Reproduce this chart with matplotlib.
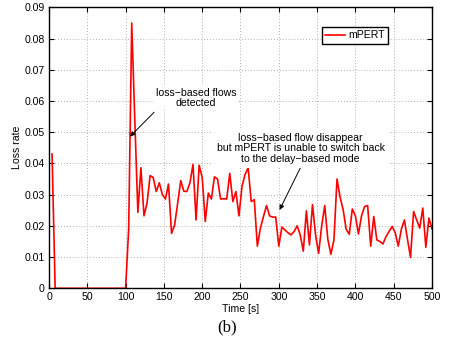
import numpy as np
from matplotlib import pyplot as plt

plt.rcParams['font.family'] = ['Liberation Sans', 'DejaVu Sans']

# sample times [s], one sample every 4 s
time_s = np.arange(4, 501, 4)

loss_rate = [
    0.043,
    0.0, 0.0, 0.0, 0.0, 0.0, 0.0, 0.0, 0.0, 0.0, 0.0, 0.0, 0.0,
    0.0, 0.0, 0.0, 0.0, 0.0, 0.0, 0.0, 0.0, 0.0, 0.0, 0.0, 0.0,
    0.019, 0.085, 0.054, 0.0243, 0.0386, 0.0232, 0.0273, 0.0361, 0.0355, 0.031,
    0.0338, 0.030, 0.0286, 0.0334, 0.0176, 0.0203, 0.0273, 0.0345, 0.0311, 0.031,
    0.0338, 0.0397, 0.0219, 0.0394, 0.0355, 0.0214, 0.0305, 0.0286, 0.0357, 0.035,
    0.0286, 0.0287, 0.0286, 0.0368, 0.0278, 0.031, 0.0232, 0.0327, 0.0365, 0.0386,
    0.0278, 0.0284, 0.0135, 0.0193, 0.023, 0.0265, 0.0232, 0.0228, 0.0228, 0.0135,
    0.0196, 0.0187, 0.0178, 0.0171, 0.0182, 0.020, 0.0171, 0.0119, 0.0248, 0.0139,
    0.0268, 0.0171, 0.0112, 0.020, 0.0265, 0.0157, 0.0109, 0.0155, 0.035, 0.0292,
    0.0252, 0.0189, 0.0173, 0.0254, 0.0232, 0.0174, 0.0232, 0.0262, 0.0265, 0.0135,
    0.023, 0.0155, 0.015, 0.0142, 0.0166, 0.0182, 0.0198, 0.0178, 0.0135, 0.0189,
    0.0219, 0.0157, 0.0099, 0.0246, 0.0219, 0.0193, 0.0257, 0.0131, 0.0225, 0.019,
]

x_ticks = [0, 50, 100, 150, 200, 250, 300, 350, 400, 450, 500]
y_ticks = [0, 0.01, 0.02, 0.03, 0.04, 0.05, 0.06, 0.07, 0.08, 0.09]
y_tick_labels = ['0', '0.01', '0.02', '0.03', '0.04', '0.05', '0.06', '0.07', '0.08', '0.09']

fig = plt.figure(figsize=(4.53, 3.41), dpi=100)
ax = fig.add_axes([0.1082, 0.1545, 0.8454, 0.8241])

ax.plot(time_s, loss_rate, color='red', linewidth=1.2, label='mPERT')

ax.set_xlim(0, 500)
ax.set_ylim(0, 0.09)
ax.set_xticks(x_ticks)
ax.set_yticks(y_ticks)
ax.set_yticklabels(y_tick_labels)
ax.tick_params(direction='in', length=3.5, width=0.8, labelsize=7.6,
               top=True, right=True, pad=3)
ax.grid(True, linestyle=(0, (1, 2.5)), color='#999999', linewidth=0.6)
for s in ax.spines.values():
    s.set_linewidth(1.0)

ax.set_xlabel('Time [s]', fontsize=7.6, labelpad=1)
ax.set_ylabel('Loss rate', fontsize=7.6, labelpad=2)

leg = ax.legend(loc='upper right', bbox_to_anchor=(0.886, 0.931), borderaxespad=0,
                fontsize=7.6, fancybox=False, framealpha=1, edgecolor='black',
                handlelength=1.9, handletextpad=0.25, borderpad=0.35)
leg.get_frame().set_linewidth(1.0)

# first note: flows detected
ax.annotate('', xy=(105.8, 0.0486), xytext=(137.2, 0.0564),
            arrowprops=dict(arrowstyle='-|>', color='black', lw=0.7, mutation_scale=7,
                            shrinkA=0, shrinkB=0))
ax.text(192, 0.061, 'loss\u2212based flows\ndetected', fontsize=7.6, ha='center', va='center',
        linespacing=1.05, bbox=dict(facecolor='white', edgecolor='none', pad=1))

# second note: cannot switch back
ax.annotate('', xy=(301, 0.0251), xytext=(328, 0.0385),
            arrowprops=dict(arrowstyle='-|>', color='black', lw=0.7, mutation_scale=7,
                            shrinkA=0, shrinkB=0))
ax.text(328.4, 0.0448, 'loss\u2212based flow disappear\nbut mPERT is unable to switch back\nto the delay\u2212based mode',
        fontsize=7.6, ha='center', va='center', linespacing=1.05,
        bbox=dict(facecolor='white', edgecolor='none', pad=3))

fig.text(0.502, 0.041, '(b)', fontsize=12, family=['Liberation Serif', 'DejaVu Serif'],
         ha='center', va='center')

fig.savefig('out.png', dpi=100)
